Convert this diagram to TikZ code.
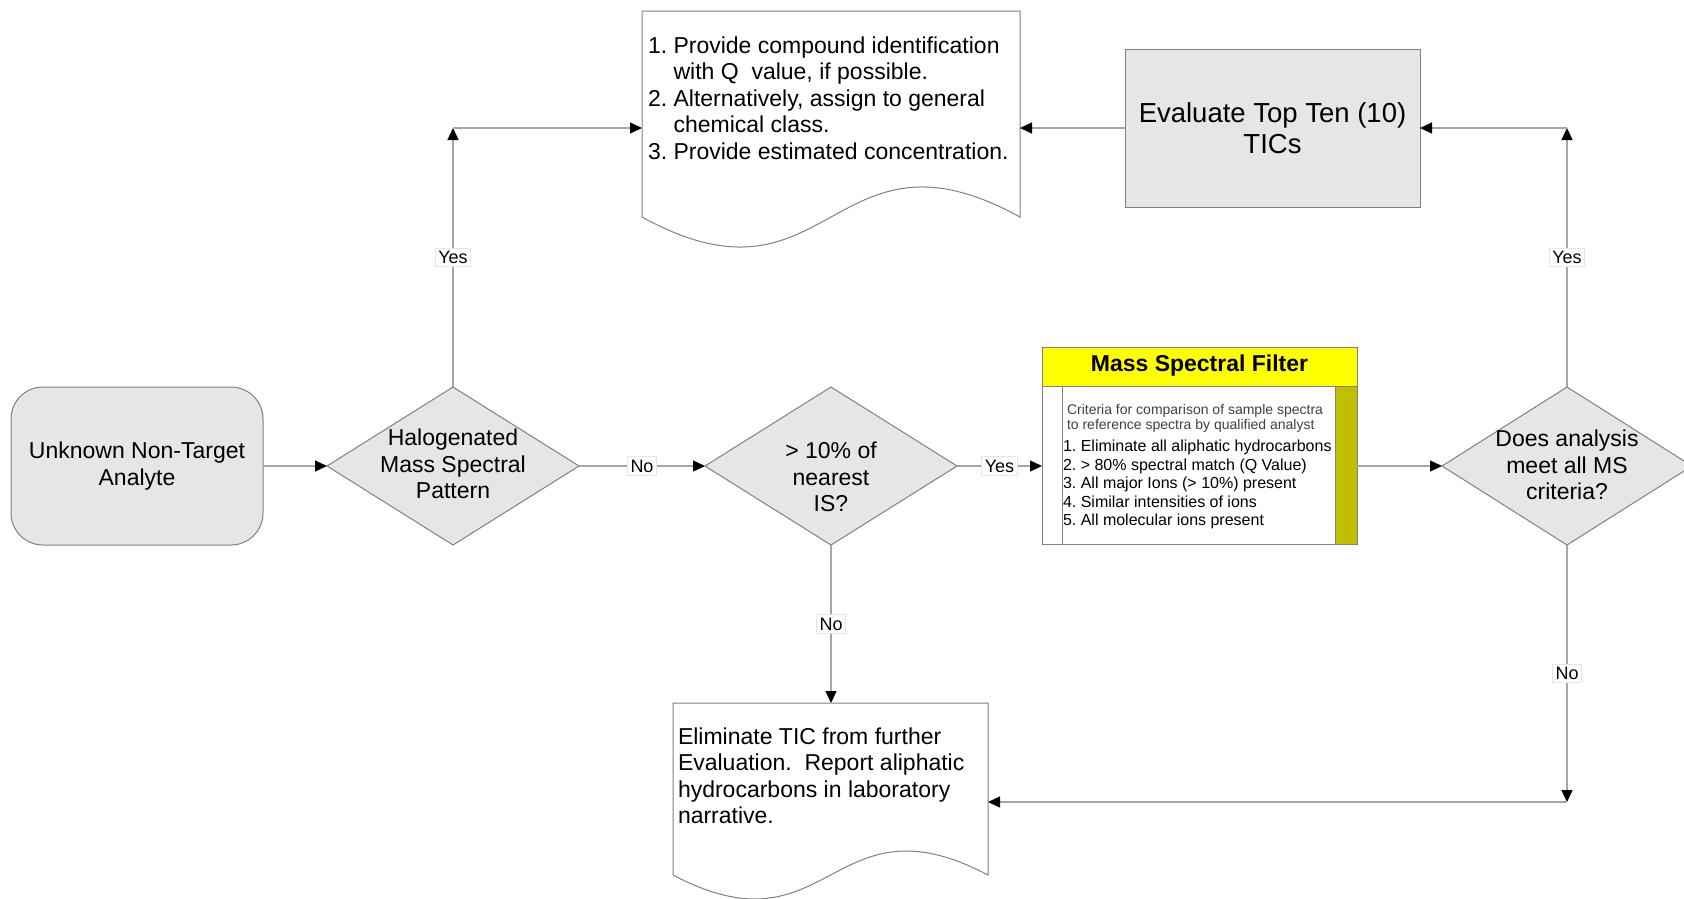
\documentclass[tikz,border=0pt]{standalone}
\usepackage{fontspec}
\setmainfont{Liberation Sans}
\usetikzlibrary{shapes.geometric,arrows.meta,calc}
\definecolor{boxfill}{RGB}{230,230,230}
\definecolor{boxline}{RGB}{128,128,128}
\definecolor{linegray}{RGB}{166,166,166}
\definecolor{mfolive}{RGB}{191,191,0}
\definecolor{hdryellow}{RGB}{255,255,0}
\begin{document}
\frenchspacing
\begin{tikzpicture}[x=1pt,y=-1pt,
  every node/.style={inner sep=0pt, outer sep=0pt},
  bigtxt/.style={font=\fontsize{23}{26.5}\selectfont, align=center},
  procbox/.style={draw=boxline, fill=boxfill, line width=1pt},
  dia/.style={shape=diamond, draw=boxline, fill=boxfill, line width=1pt, minimum width=252pt, minimum height=158pt},
  conn/.style={draw=linegray, line width=1.3pt, -{Triangle[length=12pt,width=11pt,color=black]}},
  lbl/.style={fill=white, draw=black!10, font=\fontsize{18}{20}\selectfont, inner xsep=3pt, inner ysep=3pt},
  docline/.style={draw=boxline, fill=white, line width=1pt}
]
\useasboundingbox (0,0) rectangle (1684,898);

% documents (outline drawn directly)
\node[minimum width=378pt, minimum height=236pt] (doc1) at (831,129) {};
\path[docline] (642,11) -- (1020,11) -- (1020,217)
  .. controls (831,113) and (831,321) .. (642,217) -- cycle;
\node[bigtxt, align=left, anchor=north west] (doc1t) at (648,36.5)
  {1. Provide compound identification\\\hphantom{1.}\ with Q\ \ value, if possible.\\2. Alternatively, assign to general\\\hphantom{2.}\ chemical class.\\3. Provide estimated concentration.};

\node[minimum width=315pt, minimum height=198pt] (doc2) at (830.5,802) {};
\path[docline] (673,703) -- (988,703) -- (988,875)
  .. controls (830.5,792) and (830.5,958) .. (673,875) -- cycle;
\node[bigtxt, align=left, anchor=north west] (doc2t) at (678,727.4)
  {Eliminate TIC from further\\Evaluation.\ \ Report aliphatic\\hydrocarbons in laboratory\\narrative.};

% process boxes
\node[procbox, bigtxt, rounded corners=32pt, minimum width=252pt, minimum height=158pt] (unk) at (137,466) {Unknown Non-Target\\Analyte};
\node[procbox, minimum width=295pt, minimum height=158pt, font=\fontsize{27.5}{31}\selectfont, align=center] (eval) at (1272.5,128) {Evaluate Top Ten (10)\\TICs};

% decisions
\node[dia] (halo) at (453,466) {};
\node[bigtxt] (halot) at (453,464) {Halogenated\\Mass Spectral\\Pattern};
\node[dia] (is) at (831,466) {};
\node[bigtxt] (ist) at (831,477) {> 10\% of\\nearest\\IS?};
\node[dia, minimum width=250pt] (does) at (1567,466) {};
\node[bigtxt] (doest) at (1567,465) {Does analysis\\meet all MS\\criteria?};

% mass spectral filter
\node[minimum width=315pt, minimum height=197pt] (filt) at (1199.5,445.5) {};
\fill[hdryellow] (1042,347) rectangle (1357,386);
\fill[white] (1042,386) rectangle (1357,544);
\fill[mfolive] (1335,386) rectangle (1357,544);
\draw[boxline, line width=1pt] (1042,386) -- (1357,386) (1062,386) -- (1062,544) (1335,386) -- (1335,544);
\draw[boxline, line width=1pt] (filt.north west) rectangle (filt.south east);
\node[font=\bfseries\fontsize{23}{26}\selectfont] (filth) at (1199.5,366) {Mass Spectral Filter};
\node[anchor=north west, align=left, font=\fontsize{14}{15}\selectfont, text=black!75] (crit) at (1067,404.7)
  {Criteria for comparison of sample spectra\\to reference spectra by qualified analyst};
\node[anchor=north west, align=left, font=\fontsize{16}{18.5}\selectfont] (critl) at (1063,440)
  {1. Eliminate all aliphatic hydrocarbons\\2. > 80\% spectral match (Q Value)\\3. All major Ions (> 10\%) present\\4. Similar intensities of ions\\5. All molecular ions present};

% corner coordinates
\coordinate (c1) at (halo.north |- eval.west);
\coordinate (c2) at (does.north |- eval.east);
\coordinate (c3) at (does.south |- doc2.east);

% connectors
\draw[conn] (unk.east) -- (halo.west);
\draw[conn] (halo.east) -- node[lbl] (no1) {No} (is.west);
\draw[conn] (is.east) -- node[lbl] (yes2) {Yes} (is.east -| filt.west);
\draw[conn] (does.west -| filt.east) -- (does.west);
\draw[conn] (halo.north) -- node[lbl] (yes1) {Yes} (c1);
\draw[conn] (c1) -- (c1 -| doc1.west);
\draw[conn] (does.north) -- node[lbl] (yes3) {Yes} (c2);
\draw[conn] (c2) -- (eval.east);
\draw[conn] (eval.west) -- (eval.west -| doc1.east);
\draw[conn] (is.south) -- node[lbl] (no2) {No} (doc2.north -| is.south);
\draw[conn] (does.south) -- node[lbl] (no3) {No} (c3);
\draw[conn] (c3) -- (c3 -| doc2.east);
\end{tikzpicture}
\end{document}
